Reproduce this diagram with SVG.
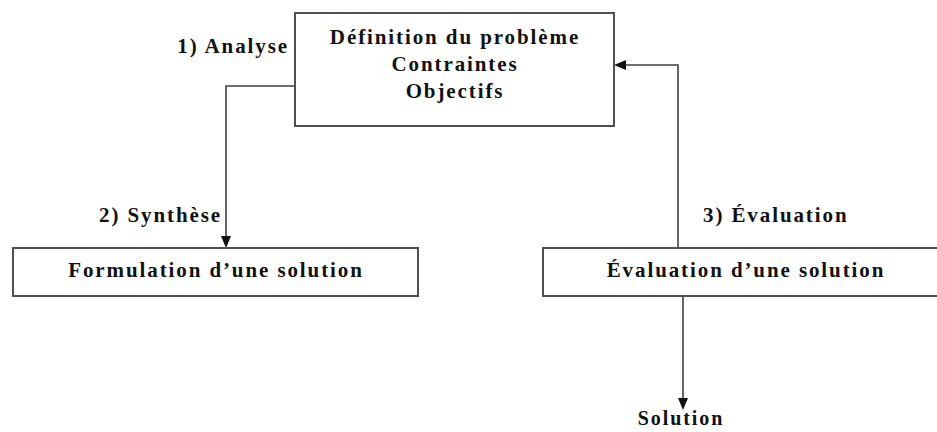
<svg xmlns="http://www.w3.org/2000/svg" width="937" height="432" viewBox="0 0 937 432">
  <style>
    .box { fill: #ffffff; stroke: #505050; stroke-width: 2; }
    .wire { fill: none; stroke: #404040; stroke-width: 1.6; }
    text { font-family: "Liberation Serif", Tinos, "Times New Roman", "DejaVu Serif", serif; font-weight: bold; font-size: 21px; letter-spacing: 1.9px; fill: #111111; }
    .c { text-anchor: middle; }
    .r { text-anchor: end; }
  </style>
  <rect width="937" height="432" fill="#ffffff"/>

  <g id="connectors">
    <!-- analysis: problem box down to formulation -->
    <polyline class="wire" points="294,86 226,86 226,236"/>
    <path d="M221,236 L231,236 L226,248 Z" fill="#111111"/>
    <!-- evaluation feeds back into the problem box -->
    <polyline class="wire" points="678,248 678,65 626,65"/>
    <path d="M626,60 L626,70 L614,65 Z" fill="#111111"/>
    <!-- evaluation out to solution -->
    <line class="wire" x1="683" y1="296" x2="683" y2="398"/>
    <path d="M678,398 L688,398 L683,410 Z" fill="#111111"/>
  </g>

  <g id="probleme">
    <rect class="box" x="295" y="13" width="319" height="113"/>
    <text class="c" x="455" y="44">Définition du problème</text>
    <text class="c" x="455" y="71">Contraintes</text>
    <text class="c" x="455" y="98">Objectifs</text>
  </g>

  <g id="formulation">
    <rect class="box" x="13" y="248" width="405" height="48"/>
    <text class="c" x="216" y="277">Formulation d’une solution</text>
  </g>

  <g id="evaluation">
    <rect class="box" x="543" y="248" width="410" height="48"/>
    <text class="c" x="746" y="277">Évaluation d’une solution</text>
  </g>

  <g id="solution">
    <text class="c" x="681" y="425" style="font-size:20px">Solution</text>
  </g>

  <g id="labels">
    <text class="r" x="289" y="53">1) Analyse</text>
    <text class="r" x="222" y="222">2) Synthèse</text>
    <text x="703" y="222">3) Évaluation</text>
  </g>
</svg>
